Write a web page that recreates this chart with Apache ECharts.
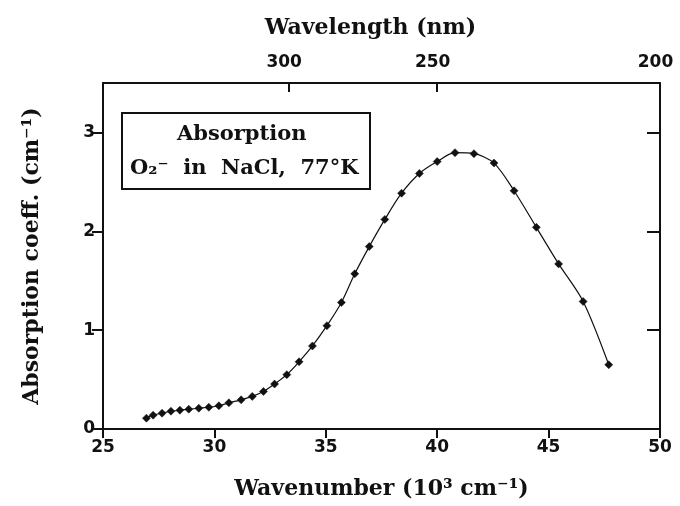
<!DOCTYPE html>
<html>
<head>
<meta charset="utf-8">
<script src="https://cdn.jsdelivr.net/npm/echarts@6/dist/echarts.min.js"></script>
<style>
  html, body { margin: 0; padding: 0; background: #fff; }
  #chart { width: 680px; height: 506px; }
</style>
</head>
<body>
<div id="chart"></div>
<script>
// Absorption band of O2- in NaCl at 77 K
const wavenumber = [26.95, 27.25, 27.65, 28.05, 28.45, 28.85, 29.3, 29.75, 30.2, 30.65, 31.2,
  31.7, 32.2, 32.7, 33.25, 33.8, 34.4, 35.05, 35.7, 36.3, 36.95, 37.65, 38.4, 39.2, 40.0,
  40.8, 41.65, 42.55, 43.45, 44.45, 45.45, 46.55, 47.7];
const absorption = [0.11, 0.14, 0.16, 0.18, 0.19, 0.2, 0.21, 0.22, 0.235, 0.265, 0.295,
  0.33, 0.38, 0.455, 0.55, 0.68, 0.84, 1.045, 1.28, 1.57, 1.845, 2.12, 2.385, 2.585, 2.705,
  2.795, 2.785, 2.69, 2.41, 2.04, 1.67, 1.29, 0.65];

// Bottom axis ticks (10^3 cm^-1) and top axis wavelength ticks (nm)
const wavenumberTicks = [25, 30, 35, 40, 45, 50];
const wavelengthTicks = [300, 250, 200];
const absorptionTicks = [0, 1, 2, 3];

// wavelength in nm -> wavenumber in 10^3 cm^-1
const toWavenumber = nm => 1e4 / nm;
const wavelengthPositions = wavelengthTicks.map(toWavenumber);

const serif = '"DejaVu Serif", "Liberation Serif", serif';
const sans = '"DejaVu Sans", "Liberation Sans", sans-serif';
const black = '#111';

const nameStyle = () => ({ fontFamily: serif, fontSize: 22, fontWeight: 'bold', color: black });
const tickLabel = () => ({ fontFamily: sans, fontSize: 17, fontWeight: 'bold', color: black });
const axisStroke = () => ({ color: black, width: 2 });

const chart = echarts.init(document.getElementById('chart'), null, { renderer: 'canvas' });

chart.setOption({
  backgroundColor: '#fff',
  animation: false,
  grid: { left: 103, right: 20, top: 83, bottom: 77, containLabel: false },
  xAxis: [
    {
      type: 'value', position: 'bottom',
      min: wavenumberTicks[0], max: wavenumberTicks[wavenumberTicks.length - 1], interval: 5,
      name: 'Wavenumber (10³ cm⁻¹)', nameLocation: 'middle', nameGap: 49,
      nameTextStyle: nameStyle(),
      axisLine: { show: true, onZero: false, lineStyle: axisStroke() },
      axisTick: { show: true, inside: false, length: 9, lineStyle: axisStroke() },
      axisLabel: Object.assign({ margin: 10 }, tickLabel()),
      splitLine: { show: false }
    },
    {
      type: 'value', position: 'top',
      min: wavenumberTicks[0], max: wavenumberTicks[wavenumberTicks.length - 1],
      name: 'Wavelength (nm)', nameLocation: 'middle', nameGap: 44,
      nameTextStyle: Object.assign({ padding: [0, 22, 0, 0] }, nameStyle()),
      axisLine: { show: true, onZero: false, lineStyle: axisStroke() },
      axisTick: { show: true, inside: true, length: 9, customValues: wavelengthPositions, lineStyle: axisStroke() },
      axisLabel: Object.assign({
        customValues: wavelengthPositions, margin: 12, padding: [0, 9, 0, 0],
        formatter: v => String(Math.round(1e4 / v))
      }, tickLabel()),
      splitLine: { show: false }
    },
    {
      // tick marks hanging below the bottom edge: an unlabeled axis set 9px below it,
      // with its ticks pointing back up to the frame
      type: 'value', position: 'bottom', offset: 9,
      min: wavenumberTicks[0], max: wavenumberTicks[wavenumberTicks.length - 1], interval: 5,
      axisLine: { show: false, onZero: false },
      axisTick: { show: true, inside: true, length: 9, customValues: wavenumberTicks, lineStyle: axisStroke() },
      axisLabel: { show: false },
      splitLine: { show: false }
    }
  ],
  yAxis: [
    {
      type: 'value', position: 'left',
      min: 0, max: 3.5, interval: 1,
      name: 'Absorption coeff. (cm⁻¹)', nameLocation: 'middle', nameGap: 60, nameRotate: 90,
      nameTextStyle: nameStyle(),
      axisLine: { show: true, onZero: false, lineStyle: axisStroke() },
      axisTick: { show: true, inside: false, length: 11, customValues: absorptionTicks, lineStyle: axisStroke() },
      axisLabel: Object.assign({ customValues: absorptionTicks, margin: 8 }, tickLabel()),
      splitLine: { show: false }
    },
    {
      type: 'value', position: 'right',
      min: 0, max: 3.5, interval: 1,
      axisLine: { show: true, onZero: false, lineStyle: axisStroke() },
      axisTick: { show: true, inside: true, length: 13, customValues: absorptionTicks, lineStyle: axisStroke() },
      axisLabel: { show: false },
      splitLine: { show: false }
    }
  ],
  series: [
    {
      type: 'line',
      xAxisIndex: 0, yAxisIndex: 0,
      data: wavenumber.map((w, i) => [w, absorption[i]]),
      smooth: 0.3,
      symbol: 'diamond', symbolSize: 8,
      lineStyle: { color: black, width: 1.2 },
      itemStyle: { color: black, borderColor: black, borderWidth: 0.5 }
    }
  ],
  graphic: [
    {
      type: 'rect', left: 121, top: 112,
      shape: { width: 248, height: 76 },
      style: { fill: '#fff', stroke: black, lineWidth: 2 }
    },
    {
      type: 'text', left: 177, top: 124,
      style: { text: 'Absorption', fontFamily: serif, fontSize: 21, fontWeight: 'bold', fill: black }
    },
    {
      type: 'text', left: 130, top: 158,
      style: { text: 'O₂⁻  in  NaCl,  77°K', fontFamily: serif, fontSize: 21, fontWeight: 'bold', fill: black }
    }
  ]
});
</script>
</body>
</html>
